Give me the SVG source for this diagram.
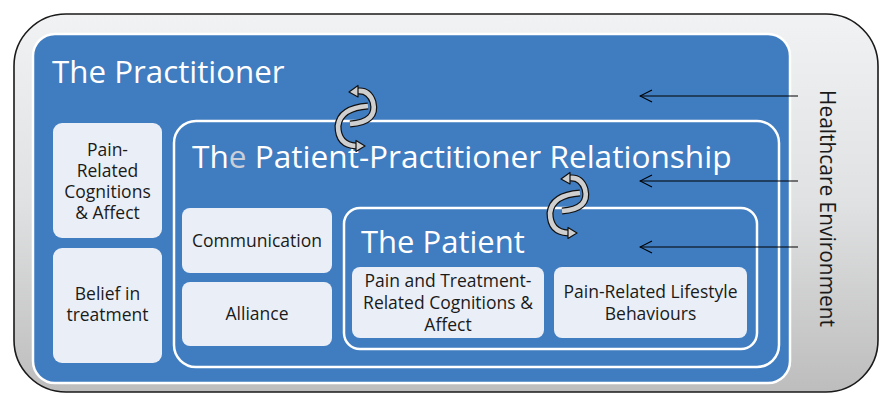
<svg xmlns="http://www.w3.org/2000/svg" xmlns:xlink="http://www.w3.org/1999/xlink" width="883" height="395" viewBox="0 0 883 395">
<defs>
<linearGradient id="envGrad" x1="0" y1="0" x2="0" y2="1">
<stop offset="0" stop-color="#f1f2f3"/>
<stop offset="0.5" stop-color="#e0e1e2"/>
<stop offset="1" stop-color="#bdbdbd"/>
</linearGradient>
<marker id="openArrow" viewBox="0 0 14 14" refX="13" refY="7" markerWidth="14" markerHeight="14" markerUnits="userSpaceOnUse" orient="auto">
<path d="M1,1 L13,7 L1,13" fill="none" stroke="#000" stroke-width="1.1"/>
</marker>
<g id="cycle">
<path class="band-o" d="M350,124 Q378,122 373,102 Q369,90 358,91"/>
<path class="band-i" d="M350,124 Q378,122 373,102 Q369,90 358,91"/>
<polygon class="head" points="349,92 358,85.5 358,97"/>
<path class="band-o" d="M368,106 Q340,108 338,126 Q338,145 356,146"/>
<path class="band-i" d="M368,106 Q340,108 338,126 Q338,145 356,146"/>
<polygon class="head" points="365,146 356,140.5 356,151.5"/>
</g>
</defs>
<style>
text { font-family: "Open Sans", "Liberation Sans", sans-serif; }
.title { fill: #ffffff; font-size: 31px; }
.box { fill: #eaeff7; stroke: none; }
.lbl { fill: #1a1a1a; font-size: 17.5px; text-anchor: middle; }
.frame { fill: none; stroke: #ffffff; stroke-width: 2.5; }
.band-o { fill: none; stroke: #111; stroke-width: 7; stroke-linecap: butt; }
.band-i { fill: none; stroke: #cfcfcf; stroke-width: 4.6; stroke-linecap: butt; }
.head { fill: #cfcfcf; stroke: #111; stroke-width: 1.2; stroke-linejoin: round; }
.env-arrow { stroke: #000; stroke-width: 1.1; fill: none; marker-end: url(#openArrow); }
</style>

<g id="healthcare-environment">
<rect x="14" y="14" width="864" height="378" rx="52" ry="52" fill="url(#envGrad)" stroke="#1a1a1a" stroke-width="1.6"/>
<text transform="translate(820,90) rotate(90)" x="0" y="0" font-size="20.9" fill="#1a1a1a">Healthcare Environment</text>
</g>

<g id="practitioner">
<rect x="33" y="34" width="757" height="349" rx="22" ry="22" fill="#3f7cc0" stroke="#ffffff" stroke-width="2.5"/>
<text class="title" x="52" y="83" style="font-size:31.3px">The Practitioner</text>
</g>

<g id="pain-related-cognitions">
<rect class="box" x="53" y="123" width="109" height="115" rx="9"/>
<text class="lbl" x="107.5" y="156">Pain-</text>
<text class="lbl" x="107.5" y="177">Related</text>
<text class="lbl" x="107.5" y="198">Cognitions</text>
<text class="lbl" x="107.5" y="219">&amp; Affect</text>
</g>

<g id="belief-in-treatment">
<rect class="box" x="53" y="248" width="109" height="115" rx="9"/>
<text class="lbl" x="107.5" y="300">Belief in</text>
<text class="lbl" x="107.5" y="321">treatment</text>
</g>

<g id="relationship">
<rect class="frame" x="174" y="121" width="605" height="246" rx="22" ry="22"/>
<text class="title" x="192" y="168" style="font-size:31.6px">Th<tspan fill="#c9ced8">e</tspan> Patient-Practitioner Relationship</text>
</g>

<g id="communication">
<rect class="box" x="182" y="208" width="150" height="65" rx="8"/>
<text class="lbl" x="257" y="247">Communication</text>
</g>

<g id="alliance">
<rect class="box" x="182" y="282" width="150" height="64" rx="8"/>
<text class="lbl" x="257" y="320">Alliance</text>
</g>

<g id="patient">
<rect class="frame" x="344" y="208" width="413" height="141" rx="16" ry="16"/>
<text class="title" x="361" y="253">The Patient</text>
</g>

<g id="pain-treatment-cognitions">
<rect class="box" x="352" y="267" width="192" height="71" rx="8"/>
<text class="lbl" x="448" y="287">Pain and Treatment-</text>
<text class="lbl" x="448" y="309">Related Cognitions &amp;</text>
<text class="lbl" x="448" y="331">Affect</text>
</g>

<g id="pain-lifestyle">
<rect class="box" x="554" y="267" width="193" height="71" rx="8"/>
<text class="lbl" x="650.5" y="298">Pain-Related Lifestyle</text>
<text class="lbl" x="650.5" y="320">Behaviours</text>
</g>

<g id="connectors">
<line class="env-arrow" x1="798" y1="96" x2="640" y2="96"/>
<line class="env-arrow" x1="798" y1="181" x2="640" y2="181"/>
<line class="env-arrow" x1="798" y1="247" x2="640" y2="247"/>
<use xlink:href="#cycle" href="#cycle"/>
<use xlink:href="#cycle" href="#cycle" transform="translate(212,87)"/>
</g>
</svg>
